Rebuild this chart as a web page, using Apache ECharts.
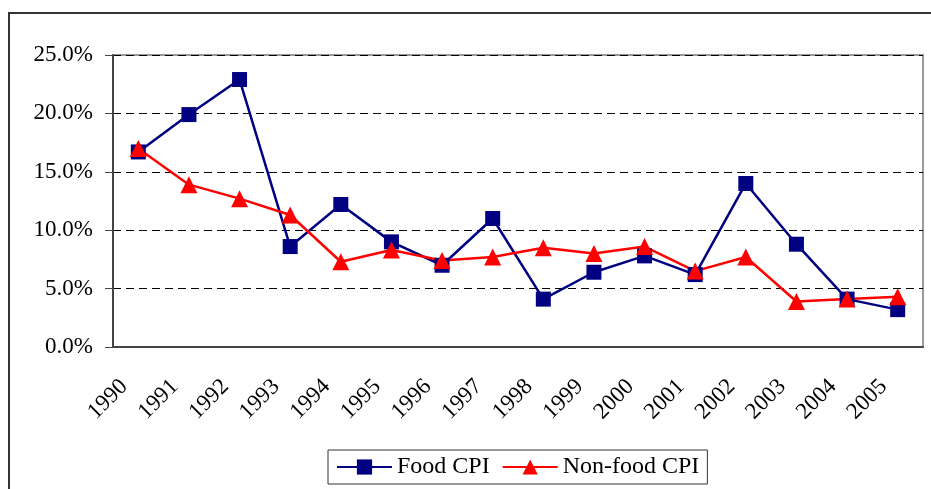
<!DOCTYPE html>
<html>
<head>
<meta charset="utf-8">
<script src="https://cdn.jsdelivr.net/npm/echarts@6/dist/echarts.min.js"></script>
<style>
  html, body { margin: 0; padding: 0; background: #fff; }
  #chart { width: 931px; height: 489px; }
</style>
</head>
<body>
<div id="chart"></div>
<script>
const years = ["1990", "1991", "1992", "1993", "1994", "1995", "1996", "1997",
  "1998", "1999", "2000", "2001", "2002", "2003", "2004", "2005"];
const foodCpi = [16.7, 19.9, 22.9, 8.6, 12.2, 9.0, 7.0, 11.0, 4.1, 6.4, 7.8, 6.2, 14.0, 8.8, 4.1, 3.2];
const nonFoodCpi = [17.0, 13.9, 12.7, 11.3, 7.3, 8.3, 7.4, 7.7, 8.5, 8.0, 8.6, 6.5, 7.7, 3.9, 4.1, 4.3];
const yTicks = [0, 5, 10, 15, 20, 25];

const serif = "'Liberation Serif', 'Times New Roman', serif";
const chart = echarts.init(document.getElementById("chart"));

chart.setOption({
  animation: false,
  graphic: [
    {
      type: "rect",
      shape: { x: 9, y: 13, width: 1000, height: 1000 },
      style: { fill: "none", stroke: "#333", lineWidth: 2 },
      silent: true
    }
  ],
  grid: {
    left: 113,
    top: 55,
    right: 8,
    bottom: 142,
    show: true,
    borderColor: "#999",
    borderWidth: 2
  },
  legend: {
    left: 328,
    top: 450,
    padding: [5, 8],
    itemGap: 12,
    itemWidth: 55,
    itemHeight: 19,
    borderColor: "#333",
    borderWidth: 1,
    textStyle: { fontFamily: serif, fontSize: 24, color: "#000" },
    data: ["Food CPI", "Non-food CPI"]
  },
  xAxis: {
    type: "category",
    data: years,
    boundaryGap: true,
    axisLine: { lineStyle: { color: "#444", width: 2 } },
    axisTick: { length: 8, interval: 0, lineStyle: { color: "#444", width: 1 } },
    axisLabel: {
      interval: 0,
      rotate: 45,
      margin: 22,
      padding: [0, 20, 0, 0],
      fontFamily: serif,
      fontSize: 23,
      color: "#000"
    }
  },
  yAxis: {
    type: "value",
    min: yTicks[0],
    max: yTicks[yTicks.length - 1],
    interval: 5,
    axisLine: { show: true, lineStyle: { color: "#444", width: 2 } },
    axisTick: { show: true, length: 8, lineStyle: { color: "#444", width: 1 } },
    axisLabel: {
      margin: 20,
      fontFamily: serif,
      fontSize: 23,
      color: "#000",
      formatter: v => v.toFixed(1) + "%"
    },
    splitLine: {
      lineStyle: { color: "#000", type: [8, 5], width: 1 }
    }
  },
  series: [
    {
      name: "Food CPI",
      type: "line",
      data: foodCpi,
      symbol: "rect",
      symbolSize: 15,
      color: "#000080",
      lineStyle: { width: 2.5, color: "#000080" },
      itemStyle: { color: "#000080" }
    },
    {
      name: "Non-food CPI",
      type: "line",
      data: nonFoodCpi,
      symbol: "triangle",
      symbolSize: 17,
      color: "#ff0000",
      lineStyle: { width: 2.5, color: "#ff0000" },
      itemStyle: { color: "#ff0000" }
    }
  ]
});
</script>
</body>
</html>
